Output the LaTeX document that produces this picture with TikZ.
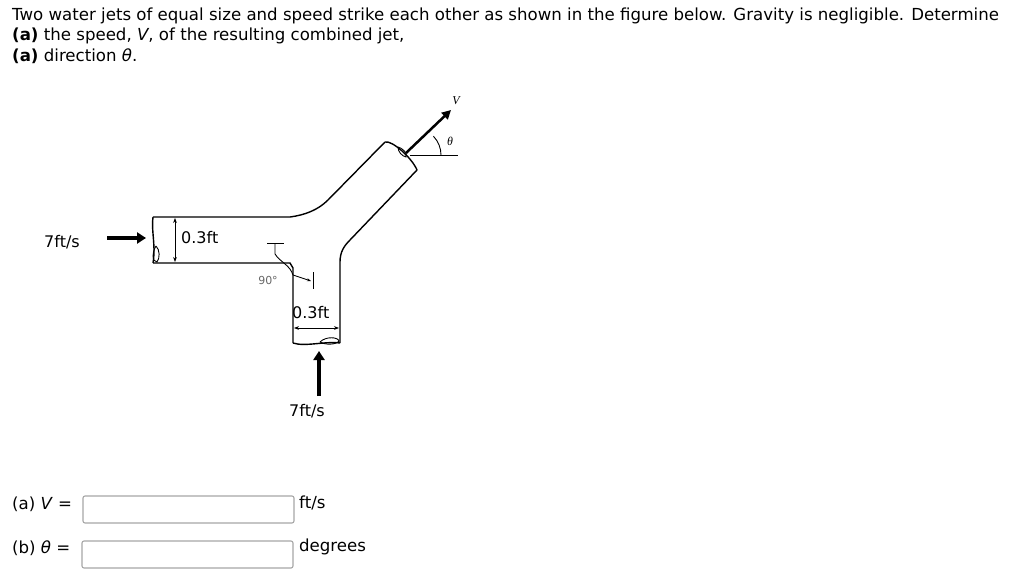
\documentclass[tikz,border=0pt]{standalone}
\usepackage{fontspec}
\setmainfont{DejaVu Sans}
\newfontfamily\serifit{Liberation Serif}
\usetikzlibrary{arrows.meta}
\begin{document}
\begin{tikzpicture}[x=1pt,y=-1pt,
  txt/.style={inner sep=0pt,anchor=west,font=\fontsize{16.6}{19}\selectfont},
  lbl/.style={inner sep=0pt,font=\fontsize{16}{18}\selectfont},
  jet/.style={line width=1.4pt},
  thin/.style={line width=0.9pt},
  bigarrow/.style={line width=3.5pt,-{Triangle[length=9pt,width=11pt]}},
  ansbox/.style={draw=gray!70,rounded corners=2pt,line width=1.1pt}]
\useasboundingbox (0,0) rectangle (1024,580);
% header
\node[txt] (l1) at (12,16) {Two water jets of equal size and speed strike each other as shown in the figure below. Gravity is negligible. Determine};
\node[txt] (l2) at (12,36) {\textbf{(a)} the speed, \textit{V}, of the resulting combined jet,};
\node[txt] (l3) at (12,56) {\textbf{(a)} direction \textit{θ}.};
% jet outline
\draw[jet] (153,217) -- (290,217) .. controls (305,215) and (318,210) .. (328,200) -- (385,142);
\draw[jet] (153,263) -- (290,263) -- (293,268) -- (293,343);
\draw[jet] (340,343) -- (340,262) .. controls (340,252) and (344,246) .. (350,240) -- (417,170);
% end caps
\draw[jet] (153,217) .. controls (151,230) and (156,245) .. (153,263);
\draw[thin] (156,246) .. controls (152,252) and (152,262) .. (157,262) .. controls (160,258) and (160,250) .. (156,246);
\draw[jet] (293,343) .. controls (305,347) and (325,341) .. (340,343);
\draw[thin] (320,342) .. controls (326,336) and (338,337) .. (339,341) .. controls (336,345) and (325,345) .. (320,342);
\draw[jet] (385,142) .. controls (392,140) and (412,158) .. (417,170);
\draw[thin] (398,147) .. controls (402,148) and (408,153) .. (406,157) .. controls (402,156) and (398,152) .. (398,147);
% 0.3ft dimensions
\draw[thin,{Stealth[length=5pt]}-{Stealth[length=5pt]}] (175,218) -- (175,262);
\node[lbl,anchor=west] (d1) at (181,238) {0.3ft};
\draw[thin,{Stealth[length=5pt]}-{Stealth[length=5pt]}] (294,328) -- (339,328);
\node[lbl,anchor=west] (d2) at (292,313) {0.3ft};
% 90 degree
\draw[thin] (267,243) -- (284,243);
\coordinate (t1) at (275,243);
\coordinate (t2) at (311,281);
\draw[thin,-{Stealth[length=4pt]}] (t1) -- (275,254) .. controls (280,262) and (290,265) .. (293,275) -- (t2);
\draw[thin] (313,272) -- (313,289);
\node[inner sep=0pt,font=\fontsize{11}{12}\selectfont,text=gray!80!black] (ninety) at (268,280) {90°};
% inflow arrows
\coordinate (a1) at (107,238); \coordinate (a2) at (146,238);
\draw[bigarrow] (a1) -- (a2);
\node[lbl] (v1) at (62,242) {7ft/s};
\coordinate (b1) at (319,396); \coordinate (b2) at (319,351);
\draw[bigarrow] (b1) -- (b2);
\node[lbl] (v2) at (307,411) {7ft/s};
% outflow
\coordinate (c1) at (406,153); \coordinate (c2) at (451,110);
\draw[line width=2.5pt,-{Triangle[length=9pt,width=9pt]}] (c1) -- (c2);
\draw[thin] (410,155) -- (458,155);
\draw[thin] (441,155) arc[start angle=0,end angle=-44,radius=27];
\node[inner sep=0pt,font=\serifit\itshape\fontsize{12}{13}\selectfont] (vl) at (456,101) {V};
\node[inner sep=0pt,font=\serifit\itshape\fontsize{12}{13}\selectfont] (th) at (450,141) {θ};
% answers
\node[txt] (qa) at (12,504) {(a) \textit{V} =};
\draw[ansbox] (83,496) rectangle (294,523);
\node[txt] (ua) at (299,503) {ft/s};
\node[txt] (qb) at (12,548) {(b) \textit{θ} =};
\draw[ansbox] (82,541) rectangle (293,568);
\node[txt] (ub) at (299,547) {degrees};
\end{tikzpicture}
\end{document}
